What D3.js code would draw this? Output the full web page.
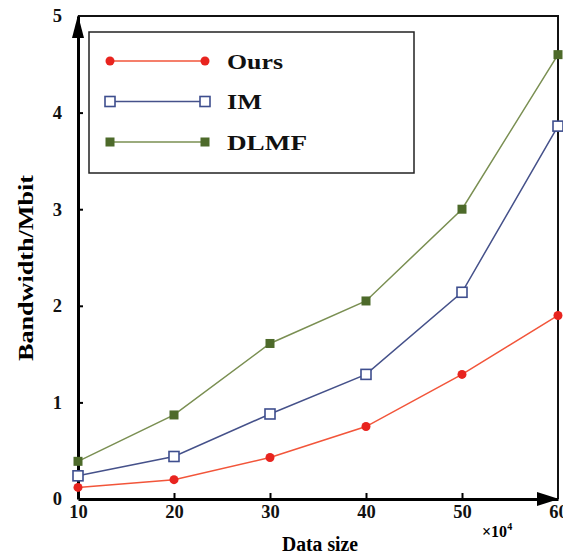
<!DOCTYPE html>
<html>
<head>
<meta charset="utf-8">
<script src="https://cdn.jsdelivr.net/npm/d3@7"></script>
<style>
  body { margin: 0; background: #fff; }
  text { font-family: "Liberation Serif", "Times New Roman", serif; font-weight: bold; }
</style>
</head>
<body>
<div id="chart"></div>
<script>
const sizes = [10, 20, 30, 40, 50, 60];
const ours = [0.12, 0.2, 0.43, 0.75, 1.29, 1.9];
const im = [0.24, 0.44, 0.88, 1.29, 2.14, 3.86];
const dlmf = [0.39, 0.87, 1.61, 2.05, 3.0, 4.6];
const yTicks = [0, 1, 2, 3, 4, 5];
const xTicks = [10, 20, 30, 40, 50, 60];

const series = [
  { name: "Ours", values: ours, line: "#f2553a", mark: "#e8241f", shape: "circle", len: 56 },
  { name: "IM", values: im, line: "#45518a", mark: "#3e4e8e", shape: "hollow", len: 35 },
  { name: "DLMF", values: dlmf, line: "#7a8f52", mark: "#4d6a2a", shape: "square", len: 80 },
];

const width = 563, height = 554;
const svg = d3.select("#chart").append("svg")
  .attr("width", width).attr("height", height);

const x = d3.scaleLinear().domain([10, 60]).range([78, 558]);
const y = d3.scaleLinear().domain([0, 5]).range([499, 16]);

// frame: top and right
svg.append("path")
  .attr("d", `M${x(10)},${y(5)}H${x(60)}V${y(0)}`)
  .attr("fill", "none").attr("stroke", "#111").attr("stroke-width", 2);

// axes
const axisY = svg.append("g").attr("transform", `translate(${x(10)},0)`)
  .call(d3.axisLeft(y).tickValues(yTicks).tickFormat(d3.format("d"))
    .tickSizeInner(-5).tickSizeOuter(0).tickPadding(16));
const axisX = svg.append("g").attr("transform", `translate(0,${y(0)})`)
  .call(d3.axisBottom(x).tickValues(xTicks).tickFormat(d3.format("d"))
    .tickSizeInner(-6).tickSizeOuter(0).tickPadding(6));

[axisY, axisX].forEach(g => {
  g.select(".domain").attr("stroke", "#000").attr("stroke-width", 3);
  g.selectAll(".tick line").attr("stroke", "#000").attr("stroke-width", 2);
  g.selectAll(".tick text").attr("font-size", 18.5).attr("fill", "#111")
    .attr("font-family", "Liberation Serif").attr("font-weight", "bold");
});
axisY.selectAll(".tick").filter(d => d === 0 || d === 5).select("line").remove();
axisX.selectAll(".tick").filter(d => d === 10 || d === 60).select("line").remove();

// arrowheads
svg.append("path")
  .attr("d", `M${x(10)},${y(5) - 1}L${x(10) - 6},${y(5) + 22}L${x(10) + 6},${y(5) + 22}Z`)
  .attr("fill", "#000");
svg.append("path")
  .attr("d", `M${x(60) + 1},${y(0)}L${x(60) - 21},${y(0) - 7}L${x(60) - 21},${y(0) + 7}Z`)
  .attr("fill", "#000");

// axis labels
svg.append("text").attr("x", 320).attr("y", 551).attr("text-anchor", "middle")
  .attr("font-size", 20).attr("textLength", 76).attr("lengthAdjust", "spacingAndGlyphs")
  .text("Data size");
svg.append("text").attr("transform", "translate(33,268) rotate(-90)")
  .attr("text-anchor", "middle").attr("font-size", 22)
  .attr("textLength", 186).attr("lengthAdjust", "spacingAndGlyphs")
  .text("Bandwidth/Mbit");
const mult = svg.append("text").attr("x", 482).attr("y", 537).attr("font-size", 16);
mult.append("tspan").text("\u00d710");
mult.append("tspan").attr("dy", -7).attr("font-size", 10).text("4");

// markers
function drawMark(g, s, cx, cy) {
  if (s.shape === "circle") {
    g.append("circle").attr("cx", cx).attr("cy", cy).attr("r", 4.5).attr("fill", s.mark);
  } else if (s.shape === "hollow") {
    g.append("rect").attr("x", cx - 5).attr("y", cy - 5).attr("width", 10).attr("height", 10)
      .attr("fill", "#fff").attr("stroke", s.mark).attr("stroke-width", 1.6);
  } else {
    g.append("rect").attr("x", cx - 4.5).attr("y", cy - 4.5).attr("width", 9).attr("height", 9)
      .attr("fill", s.mark);
  }
}

const line = d3.line().x((d, i) => x(sizes[i])).y(d => y(d));
series.forEach(s => {
  const g = svg.append("g");
  g.append("path").datum(s.values).attr("d", line)
    .attr("fill", "none").attr("stroke", s.line).attr("stroke-width", 1.5);
  s.values.forEach((v, i) => drawMark(g, s, x(sizes[i]), y(v)));
});

// legend
const legend = svg.append("g");
legend.append("rect").attr("x", 89).attr("y", 32).attr("width", 325).attr("height", 141)
  .attr("fill", "#fff").attr("stroke", "#222").attr("stroke-width", 1.5);
series.forEach((s, i) => {
  const ly = 61 + i * 40.5;
  const g = legend.append("g");
  g.append("line").attr("x1", 110).attr("x2", 205).attr("y1", ly).attr("y2", ly)
    .attr("stroke", s.line).attr("stroke-width", 1.5);
  drawMark(g, s, 110, ly);
  drawMark(g, s, 205, ly);
  g.append("text").attr("x", 227).attr("y", ly + 7.5)
    .attr("font-size", 22).attr("fill", "#111")
    .attr("textLength", s.len).attr("lengthAdjust", "spacingAndGlyphs").text(s.name);
});
</script>
</body>
</html>
